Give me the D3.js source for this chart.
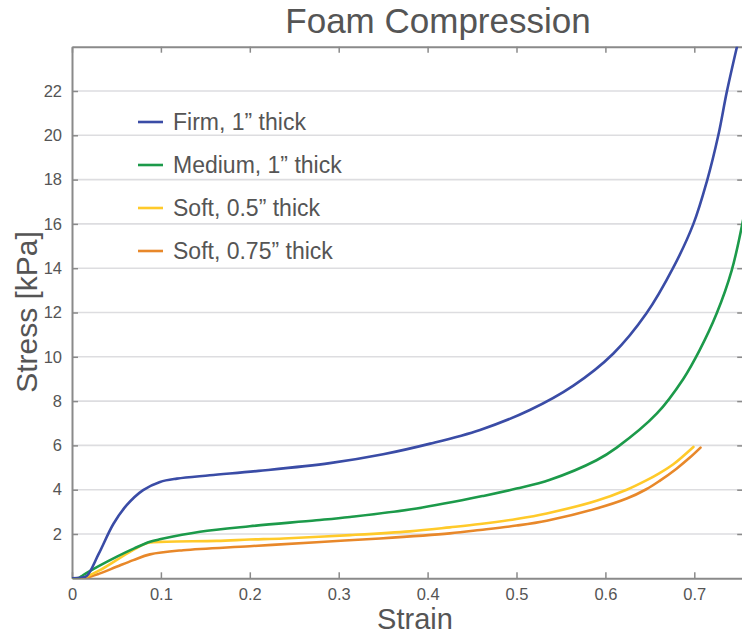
<!DOCTYPE html>
<meta charset="utf-8">
<script src="https://d3js.org/d3.v7.min.js"></script>
<style>
  body { margin: 0; background: #fff; }
  text { font-family: "Liberation Sans", Arial, sans-serif; fill: #555; }
</style>
<div id="my_dataviz"></div>
<script>

// data: [strain, stress kPa]
var firm = [[0,0],[0.01,0.02],[0.0165,0.1],[0.03,1.1],[0.0465,2.45],[0.0615,3.3],[0.08,3.98],
  [0.099,4.35],[0.118,4.5],[0.155,4.65],[0.21,4.85],[0.29,5.2],[0.35,5.6],[0.403,6.08],
  [0.459,6.7],[0.515,7.6],[0.564,8.7],[0.609,10.15],[0.646,11.95],[0.676,14.0],[0.699,16.0],
  [0.714,17.9],[0.727,20.0],[0.7365,21.95],[0.748,24]];
var medium = [[0,0],[0.008,0.02],[0.0127,0.15],[0.03,0.55],[0.05,0.97],[0.07,1.35],[0.0877,1.65],
  [0.1,1.77],[0.144,2.1],[0.2,2.35],[0.275,2.62],[0.3127,2.77],[0.3877,3.15],[0.4627,3.72],
  [0.5,4.05],[0.5377,4.45],[0.59,5.33],[0.6127,5.9],[0.6577,7.43],[0.6876,9.0],[0.706,10.3],
  [0.725,11.94],[0.742,13.89],[0.755,16.2]];
var soft05 = [[0,0],[0.012,0.02],[0.0315,0.37],[0.05,0.82],[0.069,1.28],[0.0858,1.6],[0.1065,1.65],
  [0.163,1.69],[0.2,1.75],[0.238,1.8],[0.313,1.95],[0.38,2.12],[0.425,2.3],[0.459,2.45],
  [0.5,2.68],[0.534,2.93],[0.59,3.5],[0.624,4.0],[0.646,4.42],[0.661,4.75],[0.6764,5.15],[0.699,5.93]];
var soft075 = [[0,0],[0.014,0.02],[0.03,0.2],[0.05,0.52],[0.069,0.82],[0.0877,1.08],[0.125,1.27],
  [0.2,1.45],[0.275,1.63],[0.3465,1.8],[0.425,2.03],[0.459,2.18],[0.5,2.38],[0.534,2.6],
  [0.59,3.15],[0.624,3.6],[0.646,4.02],[0.661,4.4],[0.68,4.95],[0.695,5.45],[0.707,5.9]];

var seriesNames = ["Firm, 1\u201d thick", "Medium, 1\u201d thick", "Soft, 0.5\u201d thick", "Soft, 0.75\u201d thick"];
var seriesColors = ["#3a4ca6", "#1c9a4a", "#ffca2a", "#e8882a"];
var xTicks = [0, 0.1, 0.2, 0.3, 0.4, 0.5, 0.6, 0.7];
var yTicks = [2, 4, 6, 8, 10, 12, 14, 16, 18, 20, 22];

var W = 742, H = 635;
var svg = d3.select("#my_dataviz").append("svg")
  .attr("width", W).attr("height", H);

var x = d3.scaleLinear().domain([0, 0.755]).range([72, 743.2]);
var y = d3.scaleLinear().domain([0, 24]).range([578.3, 46.7]);

// gridlines
svg.append("g").selectAll("line").data(yTicks).enter().append("line")
  .attr("x1", x(0)).attr("x2", x(0.755))
  .attr("y1", function(d) { return y(d); }).attr("y2", function(d) { return y(d); })
  .attr("stroke", "#dddde0").attr("stroke-width", 1.6);

// axes with inward ticks on all four sides
function styleAxis(g) {
  g.select(".domain").attr("stroke", "#8a8a8a").attr("stroke-width", 2);
  g.selectAll(".tick line").attr("stroke", "#8a8a8a").attr("stroke-width", 1.5);
  g.selectAll(".tick text").attr("fill", "#555").attr("font-size", 16.5)
    .attr("font-family", "Liberation Sans, Arial, sans-serif");
}
svg.append("g").attr("transform", "translate(0," + y(0) + ")")
  .call(d3.axisBottom(x).tickValues(xTicks).tickSizeInner(-6).tickSizeOuter(0).tickPadding(10)
    .tickFormat(function(d) { return d === 0 ? "0" : d3.format(".1f")(d); }))
  .call(styleAxis);
svg.append("g").attr("transform", "translate(0," + y(24) + ")")
  .call(d3.axisTop(x).tickValues(xTicks).tickSizeInner(-6).tickSizeOuter(0).tickFormat(""))
  .call(styleAxis);
svg.append("g").attr("transform", "translate(" + x(0) + ",0)")
  .call(d3.axisLeft(y).tickValues(yTicks).tickSizeInner(-6).tickSizeOuter(0).tickPadding(10))
  .call(styleAxis);
svg.append("g").attr("transform", "translate(" + x(0.755) + ",0)")
  .call(d3.axisRight(y).tickValues(yTicks).tickSizeInner(-6).tickSizeOuter(0).tickFormat(""))
  .call(styleAxis);

// curves
svg.append("clipPath").attr("id", "plot").append("rect")
  .attr("x", x(0)).attr("y", y(24)).attr("width", x(0.755) - x(0)).attr("height", y(0) - y(24));

var line = d3.line()
  .x(function(d) { return x(d[0]); })
  .y(function(d) { return y(d[1]); })
  .curve(d3.curveCatmullRom.alpha(0.5));

var allSeries = [firm, medium, soft05, soft075];
svg.append("g").attr("clip-path", "url(#plot)")
  .selectAll("path").data(allSeries.slice().reverse()).enter().append("path")
  .attr("d", line)
  .attr("fill", "none")
  .attr("stroke", function(d, i) { return seriesColors[3 - i]; })
  .attr("stroke-width", 2.6)
  .attr("stroke-linecap", "round");

// legend
var legend = svg.append("g").selectAll("g").data(seriesNames).enter().append("g")
  .attr("transform", function(d, i) { return "translate(138," + (122 + i * 43) + ")"; });
legend.append("line").attr("x1", 0).attr("x2", 25)
  .attr("stroke", function(d, i) { return seriesColors[i]; }).attr("stroke-width", 2.6);
legend.append("text").attr("x", 35).attr("dy", "0.35em")
  .style("font-size", "23px").text(function(d) { return d; });

// titles
svg.append("text").attr("x", 438).attr("y", 33).attr("text-anchor", "middle")
  .style("font-size", "35px").text("Foam Compression");
svg.append("text").attr("x", 415).attr("y", 629).attr("text-anchor", "middle")
  .style("font-size", "29px").text("Strain");
svg.append("text").attr("transform", "translate(37,312) rotate(-90)").attr("text-anchor", "middle")
  .style("font-size", "30px").text("Stress [kPa]");

</script>
